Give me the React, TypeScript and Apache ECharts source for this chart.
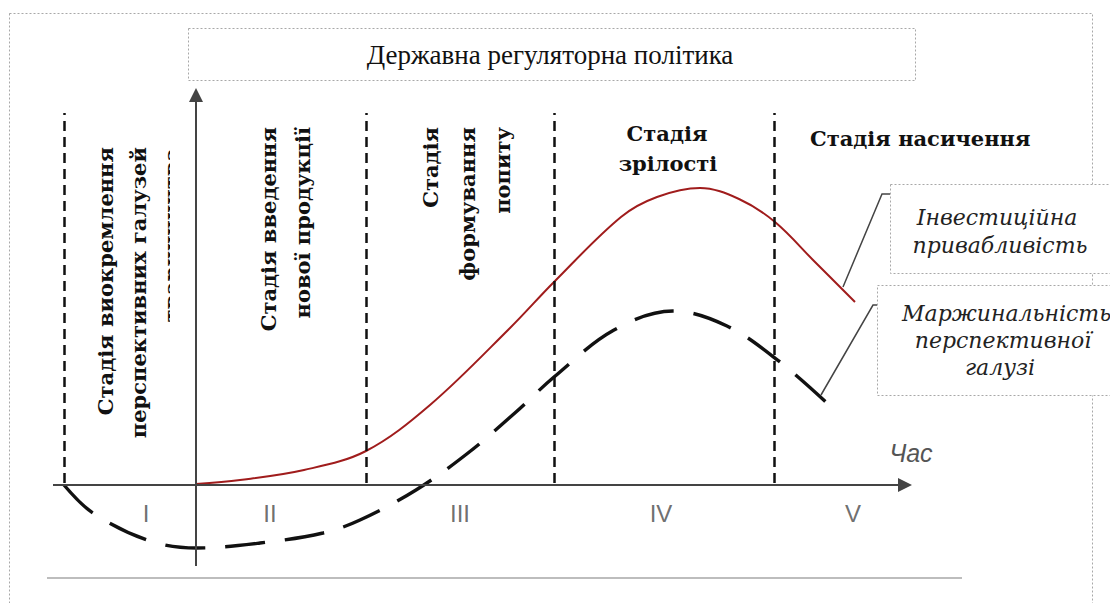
import React, { useEffect, useRef } from "react";
import * as echarts from "echarts";

// Curves in chart units: x = time from the origin, y = level above the time axis
const attractiveness: [number, number][] = [
  [0, 1], [44, 5], [108, 15], [170, 34], [234, 80], [314, 157], [358, 203],
  [425, 268], [461, 288], [504, 297], [543, 286], [579, 263], [618, 224], [659, 183],
];
const marginality: [number, number][] = [
  [-132, 0], [-103, -28], [-46, -56], [1, -63], [64, -58], [127, -48], [164, -35],
  [220, -5], [272, 32], [320, 73], [358, 108], [418, 155], [477, 174], [531, 159],
  [584, 123], [631, 82],
];
const stageBounds = [-132, 170, 358, 578];
const stageNumerals = ["I", "II", "III", "IV", "V"];
const numeralX = [-50, 74, 264, 465, 657];
const numeralY = -28;

const serif = "Liberation Serif";
const serifAlt = "DejaVu Serif";
const sans = "Liberation Sans";

function txt(
  text: string,
  x: number,
  y: number,
  opts: { size?: number; weight?: string; italic?: boolean; family?: string; align?: string; fill?: string; rotate?: boolean } = {}
) {
  const el: any = {
    type: "text",
    x,
    y,
    style: {
      text,
      fill: opts.fill || "#111",
      fontSize: opts.size || 24,
      fontFamily: opts.family || serif,
      fontWeight: opts.weight || "normal",
      fontStyle: opts.italic ? "italic" : "normal",
      align: opts.align || "center",
      verticalAlign: "middle",
    },
  };
  if (opts.rotate) el.rotation = Math.PI / 2;
  return el;
}
const boldOpts = { weight: "bold", family: serifAlt, size: 21 };
const vText = (text: string, x: number, top: number) =>
  txt(text, x, top, { ...boldOpts, align: "right", rotate: true });

export default function App() {
  const ref = useRef<HTMLDivElement>(null);
  useEffect(() => {
    if (!ref.current) return;
    const chart = echarts.init(ref.current, undefined, { renderer: "svg" });
    const dotted = { stroke: "#a8a8a8", lineDash: [2, 2], lineWidth: 1 };
    const legendFont = { size: 22, italic: true, family: serifAlt, fill: "#222" };
    const option: any = {
      animation: false,
      grid: { left: 0, right: 0, top: 0, bottom: 0 },
      xAxis: { type: "value", min: -196, max: 914, show: false },
      yAxis: { type: "value", min: -118, max: 485, show: false },
      series: [
        {
          type: "line",
          name: "Інвестиційна привабливість",
          data: attractiveness,
          smooth: 0.35,
          symbol: "none",
          lineStyle: { color: "#a01c1c", width: 2 },
          z: 4,
          silent: true,
          markLine: {
            silent: true,
            symbol: ["none", "triangle"],
            symbolSize: 14,
            label: { show: false },
            emphasis: { disabled: true },
            itemStyle: { color: "#111" },
            lineStyle: { color: "#444", width: 2, type: "solid" },
            data: [
              [{ coord: [-143, 0] }, { coord: [709, 0] }],
              [{ coord: [0, -81] }, { coord: [0, 390] }],
            ],
          },
        },
        {
          type: "line",
          name: "Маржинальність перспективної галузі",
          data: marginality,
          smooth: 0.35,
          symbol: "none",
          lineStyle: { color: "#111", width: 3.4, type: [40, 20] },
          z: 3,
          silent: true,
          markLine: {
            silent: true,
            symbol: ["none", "none"],
            label: { show: false },
            emphasis: { disabled: true },
            lineStyle: { color: "#111", width: 2.5, type: [10, 6] },
            data: stageBounds.map((x) => [{ coord: [x, 2] }, { coord: [x, 372] }]),
          },
        },
        {
          type: "scatter",
          silent: true,
          symbolSize: 1,
          itemStyle: { color: "transparent" },
          data: stageNumerals.map((n, i) => ({ name: n, value: [numeralX[i], numeralY] })),
          label: {
            show: true,
            position: "inside",
            formatter: "{b}",
            color: "#4a4a4a",
            fontSize: 24,
            fontFamily: sans,
          },
        },
      ],
      graphic: [
        { type: "rect", shape: { x: 9.5, y: 13.5, width: 1083, height: 640 }, style: { fill: "none", ...dotted } },
        { type: "rect", shape: { x: 188.5, y: 28.5, width: 727, height: 52 }, style: { fill: "#fff", ...dotted } },
        txt("Державна регуляторна політика", 550, 55, { size: 27 }),
        // Stage I
        vText("Стадія виокремлення", 105, 147),
        vText("перспективних галузей", 138, 147),
        vText("тваринництва", 171, 148),
        { type: "rect", shape: { x: 170, y: 140, width: 24, height: 200 }, style: { fill: "#fff" } },
        // Stage II
        vText("Стадія введення", 268, 127),
        vText("нової продукції", 302, 127),
        // Stage III
        vText("Стадія", 430, 127),
        vText("формування", 467, 127),
        vText("попиту", 502, 127),
        // Stage IV, V
        txt("Стадія", 667, 133, boldOpts),
        txt("зрілості", 668, 163, boldOpts),
        txt("Стадія насичення", 810, 138, { ...boldOpts, align: "left" }),
        txt("Час", 911, 453, { size: 25, italic: true, family: sans, fill: "#555" }),
        // bottom rule
        { type: "line", shape: { x1: 47, y1: 578, x2: 962, y2: 578 }, style: { stroke: "#bdbdbd", lineWidth: 2 } },
        // legend boxes
        { type: "rect", shape: { x: 890.5, y: 184.5, width: 260, height: 89 }, style: { fill: "#fff", ...dotted } },
        { type: "rect", shape: { x: 877.5, y: 285.5, width: 280, height: 110 }, style: { fill: "#fff", ...dotted } },
        txt("Інвестиційна", 997, 217, legendFont),
        txt("привабливість", 1000, 245, legendFont),
        txt("Маржинальність", 902, 313, { ...legendFont, align: "left" }),
        txt("перспективної", 1003, 340, legendFont),
        txt("галузі", 1000, 367, legendFont),
        { type: "polyline", shape: { points: [[890, 194], [882, 194], [843, 287]] }, style: { fill: "none", stroke: "#444", lineWidth: 1.5 } },
        { type: "polyline", shape: { points: [[877, 305], [873, 305], [821, 395]] }, style: { fill: "none", stroke: "#444", lineWidth: 1.5 } },
      ],
    };
    chart.setOption(option);
    return () => chart.dispose();
  }, []);
  return (
    <div
      ref={ref}
      style={{ position: "fixed", left: 0, top: 0, width: 1110, height: 603, background: "#fff" }}
    />
  );
}
